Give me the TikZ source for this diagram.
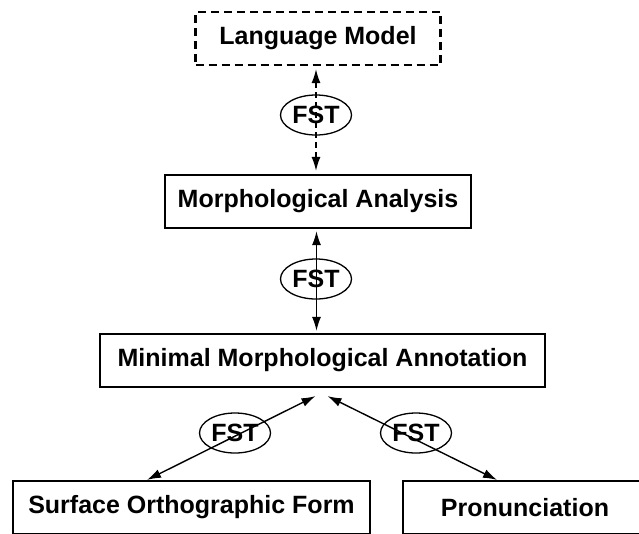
\documentclass[tikz,border=0pt]{standalone}
\usepackage{fontspec}
\setmainfont{Liberation Sans}
\usetikzlibrary{arrows.meta,shapes,positioning}

\begin{document}
\begin{tikzpicture}[x=1pt,y=-1pt,
    level/.style={draw,line width=2.2pt,minimum height=53pt,inner sep=0pt,font=\fontsize{25}{29}\selectfont\bfseries},
    fst/.style={draw,ellipse,line width=1.3pt,minimum width=71pt,minimum height=40pt,inner sep=0pt,font=\fontsize{25}{29}\selectfont\bfseries},
    link/.style={line width=1.4pt,{Latex[length=14pt,width=9pt]}-{Latex[length=14pt,width=9pt]}}]
  \useasboundingbox (0,0) rectangle (639,533);

  % Levels of representation
  \node[level,dash pattern=on 8pt off 5pt,minimum width=245pt] (lm) at (318,38.5) {Language Model};
  \node[level,minimum width=306pt] (ma) at (318,201.5) {Morphological Analysis};
  \node[level,minimum width=445pt] (mma) at (322.5,360.5) {Minimal Morphological Annotation};
  \node[level,minimum width=357pt] (sof) at (191.5,507.5) {Surface Orthographic Form};
  \node[level,minimum width=244pt] (pron) at (525,507.5) {Pronunciation};

  % Transducers
  \node[fst] (fst1) at (316,115) {FST};
  \node[fst] (fst2) at (316,279) {FST};
  \node[fst] (fst3) at (235,433) {FST};
  \node[fst] (fst4) at (416,433) {FST};

  % Mappings
  \draw[link,dash pattern=on 6pt off 4pt] ([xshift=-2pt,yshift=-3pt]lm.south) -- ([xshift=-2pt,yshift=3pt]ma.north);
  \draw[link] ([xshift=-1.5pt,yshift=-2pt]ma.south) -- ([xshift=-6pt,yshift=2pt]mma.north);
  \draw[link] ([xshift=-7pt,yshift=-8pt]mma.south) -- ([xshift=-44.5pt]sof.north);
  \draw[link] ([xshift=5pt,yshift=-8pt]mma.south) -- ([xshift=-28pt]pron.north);
\end{tikzpicture}
\end{document}
